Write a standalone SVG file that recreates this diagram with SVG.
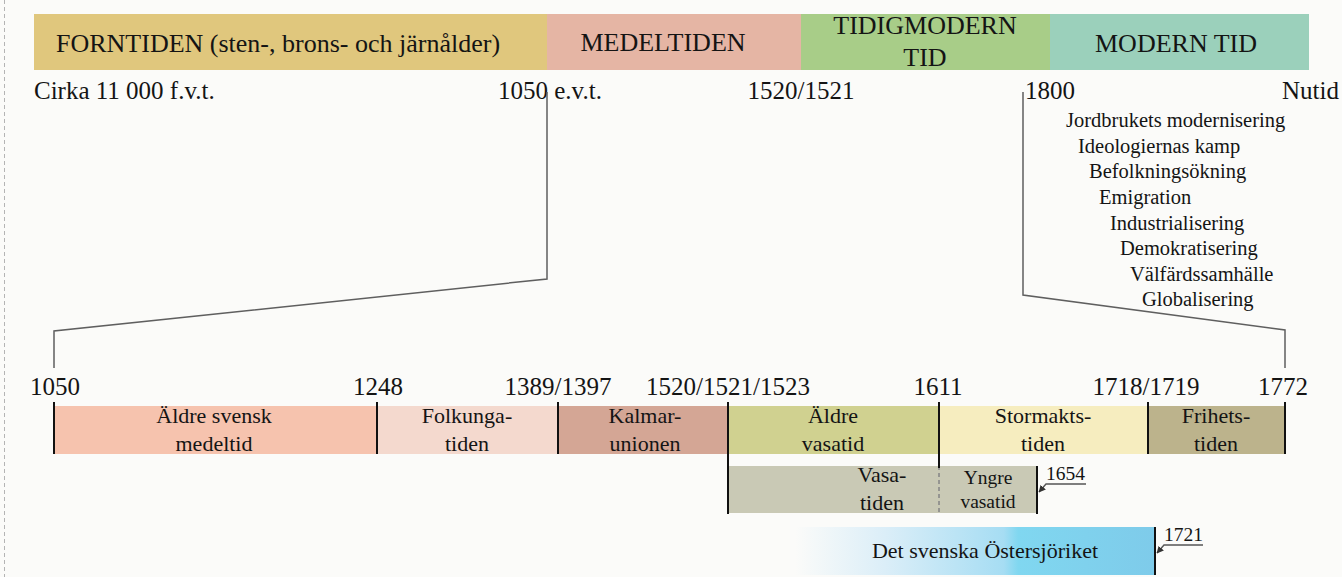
<svg xmlns="http://www.w3.org/2000/svg" width="1342" height="577" viewBox="0 0 1342 577">
<style>
text{font-family:"Liberation Serif","DejaVu Serif",serif;fill:#141414}
.era{font-size:26px}
.yr{font-size:25px}
.ev{font-size:20.5px}
.lb{font-size:22px}
.sm{font-size:19.5px}
.conn{fill:none;stroke:#5f5f5f;stroke-width:1.5}
.tick{stroke:#111;stroke-width:2}
.lead{fill:none;stroke:#555;stroke-width:1.4}
</style>
<defs>
<linearGradient id="gOs" gradientUnits="userSpaceOnUse" x1="795" y1="0" x2="1155" y2="0">
<stop offset="0" stop-color="#fbfbf9"/>
<stop offset="0.25" stop-color="#dbeef8"/>
<stop offset="0.58" stop-color="#a6ddf3"/>
<stop offset="0.62" stop-color="#80d7f0"/>
<stop offset="1" stop-color="#7ecbea"/>
</linearGradient>
<marker id="ah" viewBox="0 0 6 6" refX="5.5" refY="3" markerWidth="5" markerHeight="5" orient="auto">
<path d="M0,0 L6,3 L0,6 z" fill="#333"/>
</marker>
</defs>
<rect x="0" y="0" width="1342" height="577" fill="#fbfbf9"/>
<line x1="4.5" y1="0" x2="4.5" y2="577" stroke="#b4b4b4" stroke-width="1" stroke-dasharray="4 3"/>

<g id="era-forntiden"><rect x="34" y="14" width="513" height="56" fill="#e0c77d"/><text class="era" x="56" y="52">FORNTIDEN (sten-, brons- och järnålder)</text></g>
<g id="era-medeltiden"><rect x="547" y="14" width="254" height="56" fill="#e5b5a4"/><text class="era" x="663" y="51" text-anchor="middle">MEDELTIDEN</text></g>
<g id="era-tidigmodern"><rect x="801" y="14" width="249" height="56" fill="#a8cd88"/><text class="era" x="925" y="34" text-anchor="middle">TIDIGMODERN</text><text class="era" x="925" y="66" text-anchor="middle">TID</text></g>
<g id="era-modern"><rect x="1050" y="14" width="259" height="56" fill="#9bd0bb"/><text class="era" x="1176" y="52" text-anchor="middle">MODERN TID</text></g>

<g id="top-years">
<text class="yr" x="34" y="99">Cirka 11 000 f.v.t.</text>
<text class="yr" x="498" y="99">1050 e.v.t.</text>
<text class="yr" x="801" y="99" text-anchor="middle">1520/1521</text>
<text class="yr" x="1050" y="99" text-anchor="middle">1800</text>
<text class="yr" x="1339" y="99" text-anchor="end">Nutid</text>
</g>

<g id="modern-events">
<text class="ev" x="1066" y="127">Jordbrukets modernisering</text>
<text class="ev" x="1078" y="153">Ideologiernas kamp</text>
<text class="ev" x="1089" y="178">Befolkningsökning</text>
<text class="ev" x="1099" y="204">Emigration</text>
<text class="ev" x="1110" y="230">Industrialisering</text>
<text class="ev" x="1120" y="255">Demokratisering</text>
<text class="ev" x="1130" y="281">Välfärdssamhälle</text>
<text class="ev" x="1142" y="306">Globalisering</text>
</g>

<g id="connectors">
<polyline class="conn" points="547,92 547,279 54,331 54,368"/>
<polyline class="conn" points="1023,92 1023,295 1285,330 1285,368"/>
</g>

<g id="sub-years">
<text class="yr" x="55" y="395" text-anchor="middle">1050</text>
<text class="yr" x="378" y="395" text-anchor="middle">1248</text>
<text class="yr" x="558" y="395" text-anchor="middle">1389/1397</text>
<text class="yr" x="728" y="395" text-anchor="middle">1520/1521/1523</text>
<text class="yr" x="938" y="395" text-anchor="middle">1611</text>
<text class="yr" x="1146" y="395" text-anchor="middle">1718/1719</text>
<text class="yr" x="1283" y="395" text-anchor="middle">1772</text>
</g>

<g id="p-aldre-medeltid"><rect x="54" y="406" width="323" height="48" fill="#f6c3ae"/><text class="lb" x="214" y="423" text-anchor="middle">Äldre svensk</text><text class="lb" x="214" y="451" text-anchor="middle">medeltid</text></g>
<g id="p-folkunga"><rect x="377" y="406" width="181" height="48" fill="#f4d9ce"/><text class="lb" x="467" y="423" text-anchor="middle">Folkunga-</text><text class="lb" x="467" y="451" text-anchor="middle">tiden</text></g>
<g id="p-kalmar"><rect x="558" y="406" width="170" height="48" fill="#d4a695"/><text class="lb" x="645" y="423" text-anchor="middle">Kalmar-</text><text class="lb" x="645" y="451" text-anchor="middle">unionen</text></g>
<g id="p-aldre-vasatid"><rect x="728" y="406" width="211" height="48" fill="#d0d190"/><text class="lb" x="833" y="423" text-anchor="middle">Äldre</text><text class="lb" x="833" y="451" text-anchor="middle">vasatid</text></g>
<g id="p-stormakt"><rect x="939" y="406" width="209" height="48" fill="#f6edbf"/><text class="lb" x="1043" y="423" text-anchor="middle">Stormakts-</text><text class="lb" x="1043" y="451" text-anchor="middle">tiden</text></g>
<g id="p-frihet"><rect x="1148" y="406" width="137" height="48" fill="#bcb38c"/><text class="lb" x="1216" y="423" text-anchor="middle">Frihets-</text><text class="lb" x="1216" y="451" text-anchor="middle">tiden</text></g>

<g id="p-vasatiden"><rect x="728" y="466" width="309" height="47" fill="#c9c9b5"/><line x1="939" y1="466" x2="939" y2="513" stroke="#888" stroke-width="1.6" stroke-dasharray="4 3"/><text class="lb" x="882" y="482" text-anchor="middle">Vasa-</text><text class="lb" x="882" y="510" text-anchor="middle">tiden</text><text class="sm" x="988" y="484" text-anchor="middle">Yngre</text><text class="sm" x="988" y="508" text-anchor="middle">vasatid</text></g>

<g id="p-ostersjo"><rect x="795" y="527" width="360" height="48" fill="url(#gOs)"/><text class="lb" x="985" y="558" text-anchor="middle">Det svenska Östersjöriket</text></g>

<g id="ticks">
<line class="tick" x1="54" y1="402" x2="54" y2="454"/>
<line class="tick" x1="377" y1="402" x2="377" y2="454"/>
<line class="tick" x1="558" y1="402" x2="558" y2="454"/>
<line class="tick" x1="728" y1="402" x2="728" y2="514"/>
<line class="tick" x1="939" y1="402" x2="939" y2="468"/>
<line class="tick" x1="1148" y1="402" x2="1148" y2="454"/>
<line class="tick" x1="1285" y1="402" x2="1285" y2="454"/>
<line class="tick" x1="1037" y1="466" x2="1037" y2="514"/>
<line class="tick" x1="1155" y1="527" x2="1155" y2="575"/>
</g>

<g id="end-labels">
<text class="sm" x="1046" y="480">1654</text>
<polyline class="lead" points="1086,484 1046,484 1039,492" marker-end="url(#ah)"/>
<text class="sm" x="1164" y="541">1721</text>
<polyline class="lead" points="1203,545 1164,545 1157,553" marker-end="url(#ah)"/>
</g>
</svg>
